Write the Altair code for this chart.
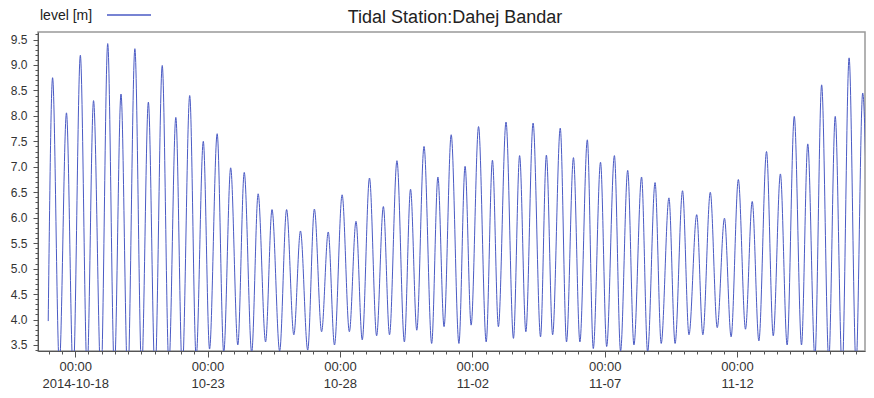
import altair as alt
import pandas as pd

# ---- data (hours after 2014-10-18 00:00, level in m) ----
start_hours = [-24.45]
start_levels = [3.97]

high_hours = [-20.49, -7.91, 4.67, 16.63, 29.48, 41.53, 54.11, 66.34, 78.92, 91.24,
              103.82, 116.14, 128.72, 140.95, 153.26, 165.85, 178.43, 191.65, 204.23, 216.82,
              229.40, 241.98, 254.57, 266.79, 279.38, 291.69, 304.01, 316.23, 328.82, 340.86,
              353.45, 365.67, 378.26, 390.57, 402.89, 415.11, 427.16, 439.74, 451.70, 464.28,
              476.24, 488.82, 500.87, 513.45, 525.68, 538.26, 550.58, 563.43, 575.75, 588.60,
              601.18, 613.77, 626.72, 639.30, 651.88, 664.11, 676.69, 689.01, 701.59, 713.91]
high_levels = [8.75, 8.06, 9.19, 8.30, 9.42, 8.43, 9.32, 8.27, 8.99, 7.97,
               8.40, 7.50, 7.65, 6.98, 6.89, 6.47, 6.16, 6.16, 5.74, 6.17,
               5.72, 6.45, 5.93, 6.78, 6.22, 7.12, 6.56, 7.40, 6.80, 7.63,
               7.01, 7.79, 7.13, 7.88, 7.22, 7.86, 7.23, 7.76, 7.18, 7.53,
               7.09, 7.22, 6.93, 6.80, 6.69, 6.39, 6.53, 6.06, 6.50, 5.99,
               6.75, 6.32, 7.30, 6.86, 7.99, 7.45, 8.61, 7.99, 9.14, 8.45]

low_hours = [-14.38, -1.80, 10.79, 23.37, 35.51, 47.64, 60.23, 72.36, 84.95, 97.08,
             109.67, 121.80, 134.66, 147.42, 160.00, 172.59, 185.35, 198.21, 210.79, 223.38,
             235.06, 248.55, 260.23, 273.27, 284.95, 298.43, 309.67, 323.16, 334.39, 347.87,
             358.93, 372.59, 383.65, 397.31, 408.55, 421.85, 432.82, 445.41, 457.54, 469.68,
             481.81, 494.40, 506.53, 518.94, 531.25, 543.83, 556.42, 569.00, 582.04, 594.62,
             607.66, 619.79, 632.83, 645.41, 658.44, 670.58, 683.16, 695.30, 707.89, 720.02]
low_levels = [3.10, 2.90, 3.00, 2.80, 3.00, 2.80, 3.00, 2.90, 3.10, 3.00,
              3.25, 3.42, 3.35, 3.50, 3.35, 3.56, 3.38, 3.70, 3.40, 3.76,
              3.50, 3.76, 3.60, 3.68, 3.70, 3.56, 3.79, 3.53, 3.86, 3.53,
              3.89, 3.56, 3.86, 3.63, 3.76, 3.66, 3.70, 3.56, 3.56, 3.43,
              3.47, 3.38, 3.50, 3.36, 3.53, 3.53, 3.70, 3.70, 3.84, 3.66,
              3.81, 3.58, 3.68, 3.50, 3.50, 3.25, 3.20, 3.00, 3.10, 2.90]

major_tick_days = [(10, 18), (10, 23), (10, 28), (11, 2), (11, 7), (11, 12)]
y_major_ticks = [3.5, 4.0, 4.5, 5.0, 5.5, 6.0, 6.5, 7.0, 7.5, 8.0, 8.5, 9.0, 9.5]

title_text = "Tidal Station:Dahej Bandar"
legend_text = "level [m]"
line_color = "#4a5ac4"
font = "Liberation Sans"

# ---- table ----
df = pd.DataFrame({
    "hours": start_hours + high_hours + low_hours,
    "level": start_levels + high_levels + low_levels,
}).sort_values("hours")
base = pd.Timestamp("2014-10-18 00:00")
df["time"] = (base + pd.to_timedelta(df["hours"], unit="h")).dt.strftime("%Y-%m-%dT%H:%M:%S")

x_domain = [alt.DateTime(year=2014, month=10, date=16, hours=14, minutes=17),
            alt.DateTime(year=2014, month=11, date=16, hours=20, minutes=0)]
y_domain = [3.382, 9.648]

major_x_values = [alt.DateTime(year=2014, month=m, date=d) for m, d in major_tick_days]
minor_times = pd.date_range("2014-10-17 00:00", "2014-11-16 12:00", freq="12h")
minor_x_values = [alt.DateTime(year=t.year, month=t.month, date=t.day, hours=t.hour) for t in minor_times]
y_minor_values = [round(3.4 + 0.1 * i, 1) for i in range(63)]

label_expr = ("[timeFormat(datum.value, '%H:%M'), "
              "timeFormat(datum.value, '%m-%d') == '10-18' ? timeFormat(datum.value, '%Y-%m-%d') "
              ": timeFormat(datum.value, '%m-%d')]")

x_major_axis = alt.Axis(orient="bottom", values=major_x_values, labelExpr=label_expr,
                        tickSize=6, labelPadding=3, labelFontSize=13, labelFont=font,
                        labelColor="#333333", domainColor="#555555", tickColor="#555555",
                        grid=False, title=None, labelBaseline="top", labelLineHeight=17,
                        labelAlign="center", labelFlush=False, labelOverlap=False)
x_minor_axis = alt.Axis(orient="bottom", values=minor_x_values, labels=False, domain=False,
                        tickSize=3, tickColor="#555555", grid=False, title=None)
y_major_axis = alt.Axis(orient="left", values=y_major_ticks, format=".1f", tickSize=5,
                        labelPadding=6, labelFontSize=12, labelFont=font, labelColor="#333333",
                        domainColor="#555555", tickColor="#555555", grid=False, title=None,
                        labelOverlap=False)
y_minor_axis = alt.Axis(orient="left", values=y_minor_values, labels=False, domain=False,
                        tickSize=3, tickColor="#555555", grid=False, title=None)

xs = alt.Scale(domain=x_domain)
ys = alt.Scale(domain=y_domain, nice=False, zero=False)

line = alt.Chart(df).mark_line(color=line_color, strokeWidth=1, interpolate="monotone", clip=True).encode(
    x=alt.X("time:T", scale=xs, axis=x_major_axis),
    y=alt.Y("level:Q", scale=ys, axis=y_major_axis),
)
minor = alt.Chart(df).mark_line(opacity=0, clip=True).encode(
    x=alt.X("time:T", scale=xs, axis=x_minor_axis),
    y=alt.Y("level:Q", scale=ys, axis=y_minor_axis),
)

one = pd.DataFrame({"k": [0]})
title = alt.Chart(one).mark_text(text=title_text, fontSize=18, font=font, color="#222222",
                                 align="center", baseline="alphabetic").encode(
    x=alt.value(417), y=alt.value(-9.5))
legend_label = alt.Chart(one).mark_text(text=legend_text, fontSize=14, font=font, color="#222222",
                                        align="left", baseline="alphabetic").encode(
    x=alt.value(2), y=alt.value(-12))
legend_line = alt.Chart(one).mark_rule(color=line_color, strokeWidth=1.5).encode(
    x=alt.value(69), x2=alt.value(113), y=alt.value(-17))

chart = alt.layer(line, minor, title, legend_label, legend_line).resolve_axis(
    x="independent", y="independent"
).properties(
    width=827, height=319, autosize="none",
    padding={"left": 30, "top": 24, "right": 1, "bottom": 47},
).configure_view(stroke="#999999", strokeWidth=1.5)

chart.save("out.html", embed_options={"renderer": "svg", "actions": False})
